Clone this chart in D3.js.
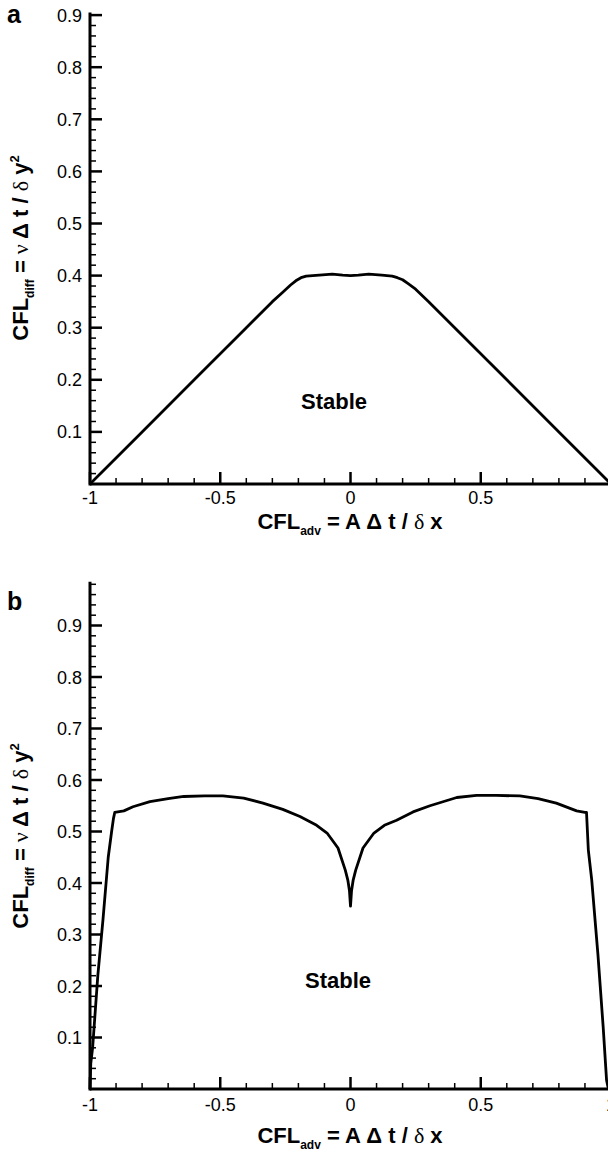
<!DOCTYPE html>
<html><head><meta charset="utf-8">
<script src="https://cdn.jsdelivr.net/npm/d3@7"></script>
<style>
body{margin:0;background:#fff;}
svg{display:block;font-family:"Liberation Sans",Arial,sans-serif;}
</style></head>
<body><svg id="c" width="608" height="1156"></svg>
<script>
// ---- data ----
const aX = [-1,-0.8,-0.6,-0.4,-0.3,-0.26,-0.23,-0.21,-0.19,-0.17,-0.12,-0.07,-0.03,0,0.03,0.07,0.12,0.16,0.18,0.2,0.22,0.25,0.3,0.4,0.6,0.8,1];
const aY = [0,0.1,0.2,0.3,0.35,0.368,0.382,0.39,0.396,0.399,0.401,0.403,0.401,0.4,0.401,0.403,0.401,0.399,0.396,0.392,0.385,0.374,0.35,0.3,0.2,0.1,0];
const bX = [-1,-0.997,-0.99,-0.98,-0.97,-0.95,-0.93,-0.917,-0.91,-0.905,-0.87,-0.835,-0.77,-0.7,-0.64,-0.56,-0.49,-0.41,-0.336,-0.26,-0.194,-0.13,-0.09,-0.048,-0.02,-0.01,-0.004,0,0.004,0.01,0.02,0.048,0.09,0.13,0.177,0.24,0.305,0.408,0.484,0.56,0.65,0.72,0.79,0.868,0.9,0.906,0.913,0.926,0.95,0.97,0.983,0.99];
const bY = [0,0.05,0.08,0.15,0.22,0.33,0.45,0.5,0.525,0.537,0.54,0.548,0.558,0.564,0.568,0.569,0.569,0.565,0.555,0.543,0.529,0.512,0.497,0.468,0.425,0.405,0.385,0.355,0.385,0.405,0.425,0.468,0.497,0.512,0.522,0.538,0.55,0.566,0.57,0.57,0.569,0.564,0.555,0.54,0.537,0.537,0.464,0.406,0.26,0.12,0.017,0];
const xMajorA = [-1,-0.5,0,0.5];
const xMajorB = [-1,-0.5,0,0.5,1];
const xMajorLabels = ["-1","-0.5","0","0.5","1"];
const yMajor = [0.1,0.2,0.3,0.4,0.5,0.6,0.7,0.8,0.9];
const yMajorLabels = ["0.1","0.2","0.3","0.4","0.5","0.6","0.7","0.8","0.9"];
const panelLabels = ["a","b"];
const stableText = "Stable";

const svg = d3.select("#c");

function panel(cfg){
  const g = svg.append("g");
  const x = d3.scaleLinear().domain([-1,1]).range([90,611]);
  const y = d3.scaleLinear().domain([0,cfg.yTop]).range([cfg.y0, cfg.y0 - cfg.yTop*cfg.pxPerUnit]);
  const xMajorTicks = [-1,-0.5,0,0.5,1];

  const xMinor = d3.range(-10,11).map(d=>d/10).filter(v=>!xMajorTicks.some(m=>Math.abs(m-v)<1e-9));
  const yMinor = d3.range(1, Math.floor(cfg.yTop*50+1e-6)+1).map(d=>d/50).filter(v=>!yMajor.some(m=>Math.abs(m-v)<1e-9));
  g.selectAll(".xmin").data(xMinor).join("line")
    .attr("x1",d=>x(d)).attr("x2",d=>x(d)).attr("y1",cfg.y0).attr("y2",cfg.y0-6)
    .attr("stroke","#000").attr("stroke-width",1.5);
  g.selectAll(".xmaj").data(xMajorTicks).join("line")
    .attr("x1",d=>x(d)).attr("x2",d=>x(d)).attr("y1",cfg.y0).attr("y2",cfg.y0-12)
    .attr("stroke","#000").attr("stroke-width",2.5);
  g.selectAll(".ymin").data(yMinor).join("line")
    .attr("x1",90).attr("x2",96).attr("y1",d=>y(d)).attr("y2",d=>y(d))
    .attr("stroke","#000").attr("stroke-width",1.5);
  g.selectAll(".ymaj").data(yMajor).join("line")
    .attr("x1",90).attr("x2",102).attr("y1",d=>y(d)).attr("y2",d=>y(d))
    .attr("stroke","#000").attr("stroke-width",2.5);

  g.append("line").attr("x1",90).attr("x2",611).attr("y1",cfg.y0).attr("y2",cfg.y0)
    .attr("stroke","#000").attr("stroke-width",3);
  g.append("line").attr("x1",90).attr("x2",90).attr("y1",cfg.y0+1.5).attr("y2",y(cfg.yTop))
    .attr("stroke","#000").attr("stroke-width",3);

  g.selectAll(".xl").data(cfg.xLab).join("text")
    .attr("x",d=>x(d)).attr("y",cfg.y0+cfg.xLabOff).attr("text-anchor","middle")
    .attr("font-size",18).text((d,i)=>xMajorLabels[i]);
  g.selectAll(".yl").data(yMajor).join("text")
    .attr("x",82).attr("y",d=>y(d)+6.5).attr("text-anchor","end")
    .attr("font-size",18).text((d,i)=>yMajorLabels[i]);

  const line = d3.line().x(d=>x(d[0])).y(d=>y(d[1]));
  g.append("path").datum(cfg.xs.map((v,i)=>[v,cfg.ys[i]]))
    .attr("d",line).attr("fill","none").attr("stroke","#000")
    .attr("stroke-width",2.8).attr("stroke-linejoin","round");

  g.append("text").attr("x",cfg.stableX).attr("y",cfg.stableY).attr("text-anchor","middle")
    .attr("font-size",22).attr("font-weight","bold").text(stableText);

  g.append("text").attr("x",7).attr("y",cfg.labelY).attr("font-size",25)
    .attr("font-weight","bold").text(cfg.label);

  const xt = g.append("text").attr("x",350).attr("y",cfg.xTitleY).attr("text-anchor","middle")
    .attr("font-size",22).attr("font-weight","bold");
  xt.append("tspan").text("CFL");
  xt.append("tspan").attr("font-size",12).attr("dy",6).text("adv");
  xt.append("tspan").attr("dy",-6).text(" = A \u0394 t / ");
  xt.append("tspan").attr("font-weight","normal").attr("font-family","Liberation Serif").text("\u03b4");
  xt.append("tspan").text(" x");

  const yt = g.append("text").attr("transform",`translate(28,${cfg.yTitleC}) rotate(-90)`)
    .attr("text-anchor","middle").attr("font-size",22).attr("font-weight","bold");
  yt.append("tspan").text("CFL");
  yt.append("tspan").attr("font-size",12).attr("dy",6).text("diff");
  yt.append("tspan").attr("dy",-6).text(" = ");
  yt.append("tspan").attr("font-weight","normal").attr("font-family","Liberation Serif").text("\u03bd");
  yt.append("tspan").text(" \u0394 t / ");
  yt.append("tspan").attr("font-weight","normal").attr("font-family","Liberation Serif").text("\u03b4");
  yt.append("tspan").text(" y");
  yt.append("tspan").attr("font-size",13).attr("dy",-9).text("2");
}

panel({y0:484, yTop:0.905, pxPerUnit:521, xs:aX, ys:aY, xLab:xMajorA, xLabOff:20, xTitleY:529, stableX:334, stableY:409, label:panelLabels[0], labelY:23, yTitleC:248});
panel({y0:1089, yTop:0.985, pxPerUnit:515, xs:bX, ys:bY, xLab:xMajorB, xLabOff:22, xTitleY:1143, stableX:338, stableY:988, label:panelLabels[1], labelY:610, yTitleC:836});
</script></body></html>
